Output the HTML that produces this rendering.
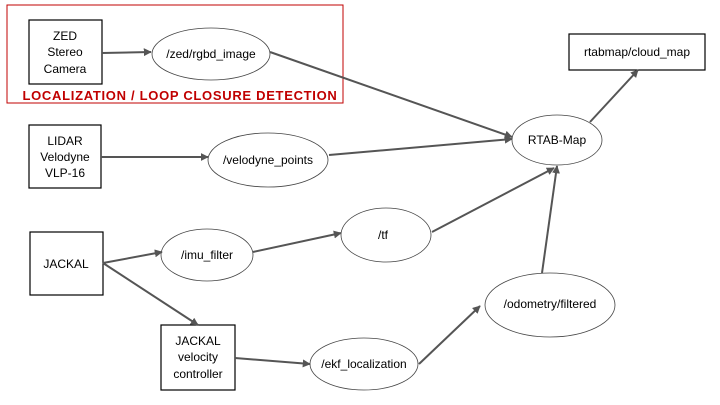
<!DOCTYPE html>
<html><head><meta charset="utf-8"><style>
html,body{margin:0;padding:0;background:#fff;}
svg{display:block;font-family:"Liberation Sans Narrow","Liberation Sans",sans-serif;}
</style></head><body>
<svg width="720" height="405" viewBox="0 0 720 405" xmlns="http://www.w3.org/2000/svg">
<defs>
<marker id="a" viewBox="0 0 10 10" refX="9" refY="5" markerWidth="4" markerHeight="4" orient="auto">
<path d="M0,0 L10,5 L0,10 z" fill="#555"/></marker>
</defs>
<rect x="7" y="5" width="336" height="98" fill="none" stroke="#c00000" stroke-width="1"/>
<text x="180" y="100" text-anchor="middle" font-family="Liberation Sans,sans-serif" font-weight="bold" font-size="13" letter-spacing="0.7" fill="#c00000">LOCALIZATION / LOOP CLOSURE DETECTION</text>
<g fill="#fff" stroke="#000" stroke-width="1.2">
<rect x="29" y="20" width="73" height="64"/>
<rect x="29" y="125" width="72" height="63"/>
<rect x="30" y="232" width="73" height="63"/>
<rect x="161" y="325" width="74" height="65"/>
<rect x="569" y="34" width="136" height="36"/>
</g>
<g fill="#fff" stroke="#444" stroke-width="0.8">
<ellipse cx="211" cy="54" rx="59" ry="26"/>
<ellipse cx="268" cy="160" rx="60" ry="27"/>
<ellipse cx="557" cy="140" rx="45" ry="25"/>
<ellipse cx="207" cy="255" rx="46" ry="26"/>
<ellipse cx="386" cy="235" rx="45" ry="27"/>
<ellipse cx="550" cy="305" rx="65" ry="32"/>
<ellipse cx="364" cy="364" rx="54" ry="26"/>
</g>
<g stroke="#555" stroke-width="2" fill="none" marker-end="url(#a)">
<line x1="102" y1="53" x2="151" y2="52"/>
<line x1="270" y1="52" x2="512" y2="137"/>
<line x1="101" y1="157" x2="208" y2="157"/>
<line x1="329" y1="155" x2="512" y2="139"/>
<line x1="590" y1="122" x2="638" y2="70"/>
<line x1="103" y1="263" x2="162" y2="252"/>
<line x1="103" y1="263" x2="198" y2="325"/>
<line x1="253" y1="252" x2="341" y2="233"/>
<line x1="432" y1="232" x2="554" y2="168"/>
<line x1="235" y1="358" x2="310" y2="364"/>
<line x1="419" y1="364" x2="480" y2="306"/>
<line x1="542" y1="273" x2="557" y2="166"/>
</g>
<g font-size="12" fill="#000" text-anchor="middle">
<text x="65" y="40">ZED</text><text x="65" y="56">Stereo</text><text x="65" y="73">Camera</text>
<text x="65" y="145">LIDAR</text><text x="65" y="161">Velodyne</text><text x="65" y="177">VLP-16</text>
<text x="66" y="268">JACKAL</text>
<text x="198" y="345">JACKAL</text><text x="198" y="361">velocity</text><text x="198" y="378">controller</text>
<text x="637" y="56">rtabmap/cloud_map</text>
<text x="211" y="58">/zed/rgbd_image</text>
<text x="268" y="164">/velodyne_points</text>
<text x="557" y="144">RTAB-Map</text>
<text x="207" y="259">/imu_filter</text>
<text x="383" y="239">/tf</text>
<text x="550" y="308">/odometry/filtered</text>
<text x="364" y="368">/ekf_localization</text>
</g>
</svg>
</body></html>
